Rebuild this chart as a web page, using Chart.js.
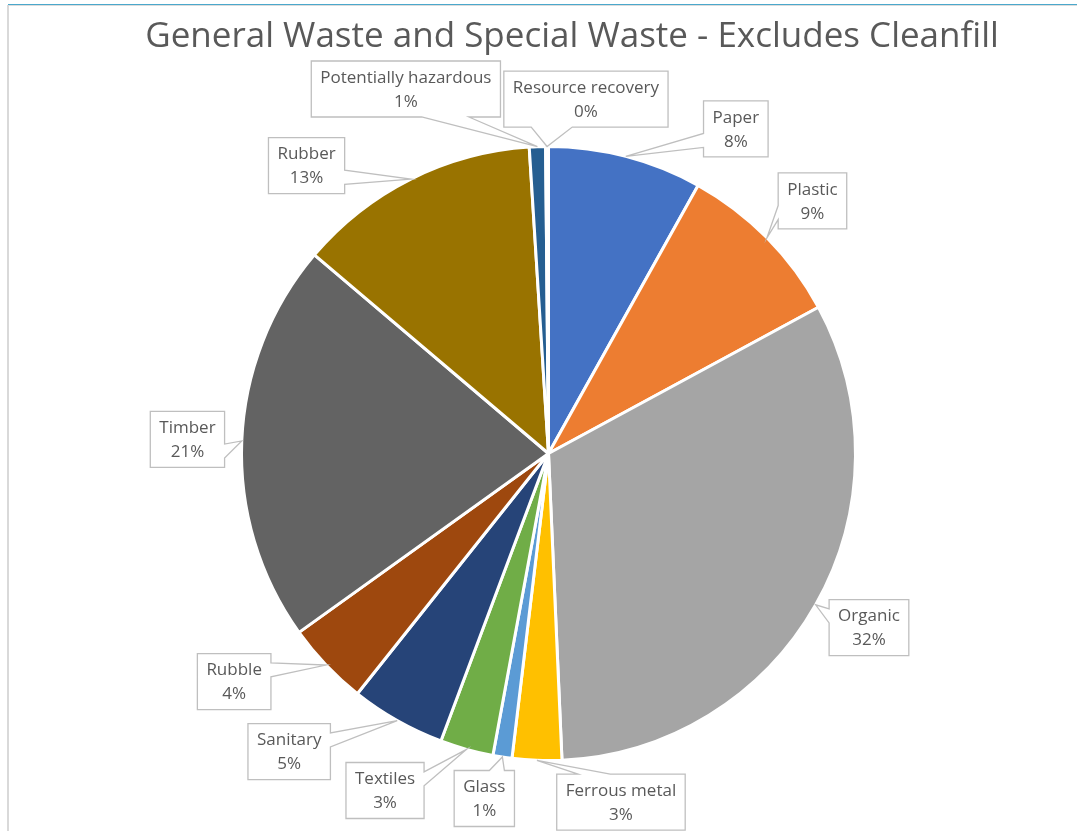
<!DOCTYPE html>
<html>
<head>
<meta charset="utf-8">
<script src="https://cdn.jsdelivr.net/npm/chart.js@4"></script>
<style>
  html, body { margin: 0; padding: 0; background: #fff; }
  #wrap { position: relative; width: 1077px; height: 831px; overflow: hidden; }
  .edge { position: absolute; }
  canvas { position: absolute; left: 0; top: 0; }
</style>
</head>
<body>
<div id="wrap">
  <div class="edge" style="left:8px; top:4px; right:0; height:1px; background:#4aa8cc;"></div>
  <div class="edge" style="left:8px; top:5px; right:0; height:1px; background:#dcdcdc;"></div>
  <div class="edge" style="left:7px; top:5px; bottom:0; width:2px; background:#d9d9d9;"></div>
  <canvas id="wasteChart" width="1077" height="831"></canvas>
</div>
<script>
var chartTitle = 'General Waste and Special Waste - Excludes Cleanfill';

var categories = ['Paper', 'Plastic', 'Organic', 'Ferrous metal', 'Glass', 'Textiles',
  'Sanitary', 'Rubble', 'Timber', 'Rubber', 'Potentially hazardous', 'Resource recovery'];

// share of total, percent
var shares = [8.1, 9.0, 32.2, 2.6, 1.0, 2.8, 5.0, 4.4, 21.1, 12.8, 0.85, 0.15];

var sliceColors = ['#4472C4', '#ED7D31', '#A5A5A5', '#FFC000', '#5B9BD5', '#70AD47',
  '#264478', '#9E480E', '#636363', '#997300', '#255E91', '#43682B'];

// where each callout box sits: [turn from the slice middle in degrees, distance in pie radii]
var calloutPlacement = [
  [15.4, 1.221], [0.9, 1.190], [-1.0, 1.188], [-13.9, 1.160],
  [1.9, 1.143], [10.4, 1.220], [11.5, 1.287], [7.6, 1.265],
  [-0.1, 1.177], [-13.4, 1.225], [-19.3, 1.275], [6.3, 1.161]
];

function drawCallout(ctx, x, y, w, h, tx, ty) {
  var dx = tx - (x + w / 2), dy = ty - (y + h / 2);
  var vertical = Math.abs(dy) > Math.abs(dx * h / w);
  var a;
  ctx.beginPath();
  ctx.moveTo(x, y);
  if (vertical && dy < 0) {
    a = dx > 0 ? 7 / 12 : 2 / 12;
    ctx.lineTo(x + w * a, y); ctx.lineTo(tx, ty); ctx.lineTo(x + w * (a + 3 / 12), y);
  }
  ctx.lineTo(x + w, y);
  if (!vertical && dx > 0) {
    a = dy > 0 ? 7 / 12 : 2 / 12;
    ctx.lineTo(x + w, y + h * a); ctx.lineTo(tx, ty); ctx.lineTo(x + w, y + h * (a + 3 / 12));
  }
  ctx.lineTo(x + w, y + h);
  if (vertical && dy > 0) {
    a = dx > 0 ? 10 / 12 : 5 / 12;
    ctx.lineTo(x + w * a, y + h); ctx.lineTo(tx, ty); ctx.lineTo(x + w * (a - 3 / 12), y + h);
  }
  ctx.lineTo(x, y + h);
  if (!vertical && dx < 0) {
    a = dy > 0 ? 10 / 12 : 5 / 12;
    ctx.lineTo(x, y + h * a); ctx.lineTo(tx, ty); ctx.lineTo(x, y + h * (a - 3 / 12));
  }
  ctx.closePath();
  ctx.fillStyle = '#ffffff';
  ctx.fill();
  ctx.strokeStyle = '#bfbfbf';
  ctx.lineWidth = 1.3;
  ctx.stroke();
}

var calloutPlugin = {
  id: 'callouts',
  afterDatasetsDraw: function(chart) {
    var ctx = chart.ctx;
    var meta = chart.getDatasetMeta(0);
    var total = shares.reduce(function(s, v) { return s + v; }, 0);
    ctx.save();
    // title
    ctx.font = '35px "Open Sans"';
    ctx.fillStyle = '#595959';
    ctx.textAlign = 'center';
    ctx.textBaseline = 'middle';
    ctx.fillText(chartTitle, 572, 37);

    ctx.font = '17px "Open Sans"';
    meta.data.forEach(function(arc, i) {
      var p = arc.getProps(['x', 'y', 'startAngle', 'endAngle', 'outerRadius'], true);
      var mid = (p.startAngle + p.endAngle) / 2;
      var tipX = p.x + Math.cos(mid) * p.outerRadius;
      var tipY = p.y + Math.sin(mid) * p.outerRadius;
      var ang = mid + calloutPlacement[i][0] * Math.PI / 180;
      var cx = p.x + Math.cos(ang) * p.outerRadius * calloutPlacement[i][1];
      var cy = p.y + Math.sin(ang) * p.outerRadius * calloutPlacement[i][1];
      var line1 = categories[i];
      var line2 = Math.round(shares[i] / total * 100) + '%';
      var w = Math.max(ctx.measureText(line1).width, ctx.measureText(line2).width) + 18;
      var h = 56;
      drawCallout(ctx, cx - w / 2, cy - h / 2, w, h, tipX, tipY);
      ctx.fillStyle = '#595959';
      ctx.textAlign = 'center';
      ctx.textBaseline = 'middle';
      ctx.fillText(line1, cx, cy - 11);
      ctx.fillText(line2, cx, cy + 13);
    });
    ctx.restore();
  }
};

var wasteChart = new Chart(document.getElementById('wasteChart'), {
  type: 'pie',
  data: {
    labels: categories,
    datasets: [{
      data: shares,
      backgroundColor: sliceColors,
      borderColor: '#ffffff',
      borderWidth: 3
    }]
  },
  options: {
    responsive: false,
    animation: false,
    layout: {
      padding: { top: 145, bottom: 69, left: 240, right: 220 }
    },
    plugins: {
      legend: { display: false },
      title: { display: false },
      tooltip: { enabled: false }
    }
  },
  plugins: [calloutPlugin]
});
</script>
</body>
</html>
